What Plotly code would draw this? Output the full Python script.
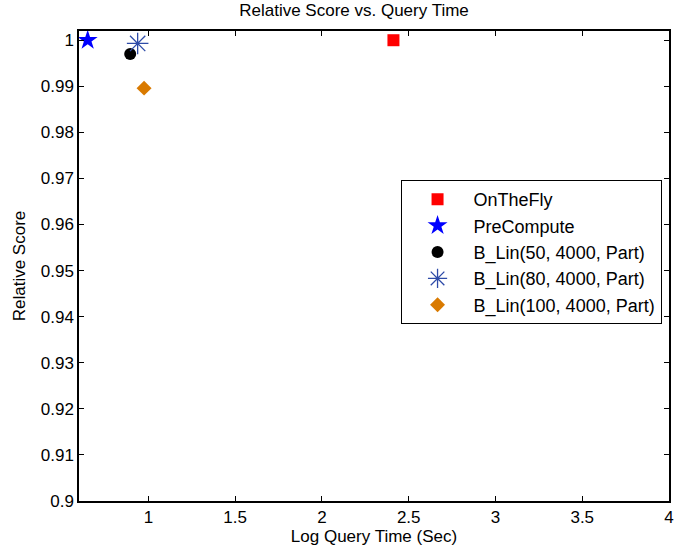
import plotly.graph_objects as go

names = ["OnTheFly", "PreCompute", "B_Lin(50, 4000, Part)", "B_Lin(80, 4000, Part)", "B_Lin(100, 4000, Part)"]
x_vals = [2.412, 0.65, 0.895, 0.938, 0.975]
y_vals = [1.0, 1.0, 0.997, 0.9993, 0.9896]
symbols = ["square", "star", "circle", "asterisk-open", "diamond"]
colors = ["#FF0000", "#0000FF", "#000000", "#2E4BA8", "#D97A00"]
sizes = [12, 15, 12, 18, 11.5]

y_ticks = [0.9, 0.91, 0.92, 0.93, 0.94, 0.95, 0.96, 0.97, 0.98, 0.99, 1.0]
y_tick_text = ["0.9", "0.91", "0.92", "0.93", "0.94", "0.95", "0.96", "0.97", "0.98", "0.99", "1"]
x_ticks = [1, 1.5, 2, 2.5, 3, 3.5, 4]
x_tick_text = ["1", "1.5", "2", "2.5", "3", "3.5", "4"]

FAM = "Liberation Sans, Arial, Helvetica, sans-serif"

fig = go.Figure()
for n, xv, yv, s, c, sz in zip(names, x_vals, y_vals, symbols, colors, sizes):
    marker = dict(symbol=s, color=c, size=sz)
    if s == "asterisk-open":
        marker["line"] = dict(color=c, width=1.3)
    else:
        marker["line"] = dict(width=0)
    fig.add_trace(go.Scatter(x=[xv], y=[yv], mode="markers", name=n, marker=marker))

font = dict(family=FAM, size=17, color="#000000")
axis_common = dict(showline=True, linecolor="black", linewidth=1.5, mirror="ticks",
                   ticks="inside", ticklen=5, tickcolor="black", showgrid=False,
                   zeroline=False, tickfont=font)

fig.update_layout(
    width=678, height=552,
    margin=dict(l=79, r=4, t=31, b=51),
    paper_bgcolor="white", plot_bgcolor="white",
    font=font,
    title=dict(text="Relative Score vs. Query Time", x=354 / 678, xref="container", xanchor="center",
               y=0.993, yref="container", yanchor="top",
               font=dict(family=FAM, size=17, color="#000000")),
    xaxis=dict(range=[0.6, 4.0], tickvals=x_ticks, ticktext=x_tick_text,
               title=dict(text="Log Query Time (Sec)", standoff=2, font=font), **axis_common),
    yaxis=dict(range=[0.9, 1.002], tickvals=y_ticks, ticktext=y_tick_text,
               title=dict(text="Relative Score", standoff=11, font=font), **axis_common),
    legend=dict(x=0.545, y=0.683, xanchor="left", yanchor="top",
                bordercolor="black", borderwidth=1, bgcolor="white",
                font=dict(family=FAM, size=18, color="#000000"),
                itemwidth=62),
    showlegend=True,
)

fig.write_html("out.html")
